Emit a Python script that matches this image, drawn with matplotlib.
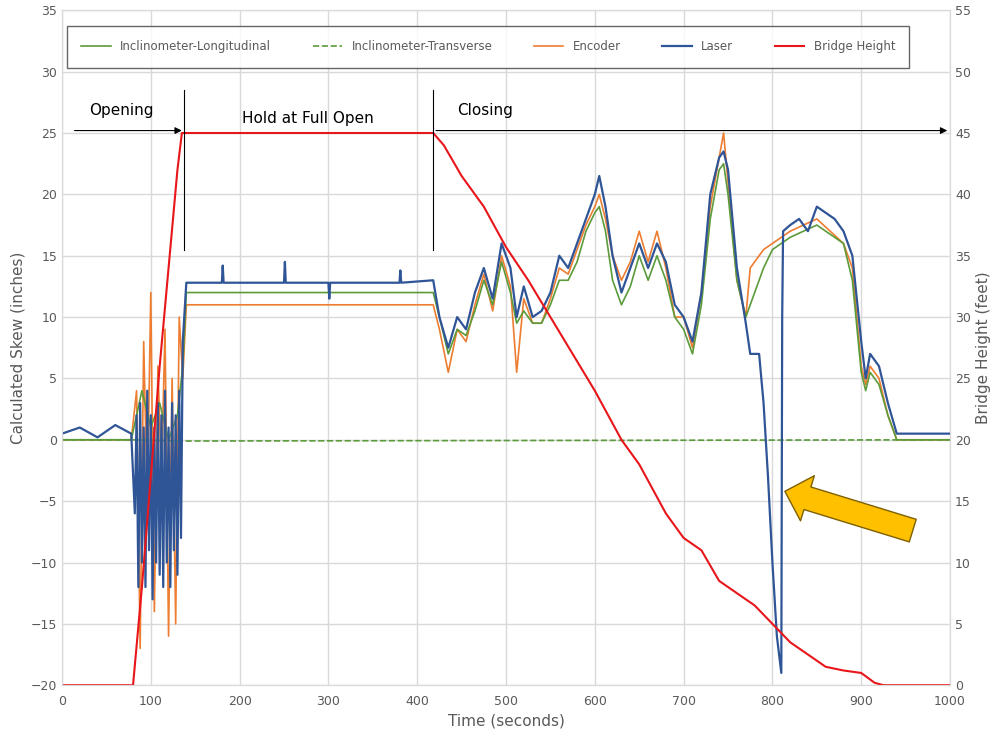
import matplotlib.pyplot as plt

# bridge height (feet, right axis)
bh_t = [0, 80, 90, 100, 110, 120, 130, 135, 418, 430, 450, 475, 500, 525, 550, 575, 600, 630, 650, 680,
        700, 720, 740, 760, 780, 800, 820, 840, 860, 880, 900, 915, 925, 1000]
bh_v = [0, 0, 8, 17, 26, 34, 42, 45, 45, 44, 41.5, 39, 35.7, 33, 30, 27, 24, 20, 18, 14,
        12, 11, 8.5, 7.5, 6.5, 5, 3.5, 2.5, 1.5, 1.2, 1, 0.2, 0, 0]

# laser
la_t = [0, 20, 40, 60, 78, 82, 84, 86, 88, 90, 92, 94, 96, 98, 100, 102, 104, 106, 108, 110, 112, 114, 116,
        118, 120, 122, 124, 126, 128, 130, 132, 134, 136, 140, 180, 181, 182, 250, 251, 252, 300, 301, 302,
        380, 381, 382, 418,
        425, 435, 445, 455, 465, 475, 485, 495, 505, 512, 520, 530, 540, 550, 560, 570, 580, 590, 600, 605,
        612, 620, 630, 640, 650, 660, 670, 680, 690, 700, 710, 720, 730, 740, 745, 750, 760, 770, 775, 785,
        790, 795, 800, 805, 810, 811, 812, 820, 830, 840, 850, 860, 870, 880, 890, 900, 905, 910, 920, 930,
        940, 1000]
la_v = [0.5, 1.0, 0.2, 1.2, 0.5, -6, 2, -12, 3, -10, 1, -12, 4, -9, 2, -13, 1, -10, 3, -11, 2, -12, 4,
        -10, 1, -12, 3, -9, 2, -11, 4, -8, 8, 12.8, 12.8, 14.2, 12.8, 12.8, 14.5, 12.8, 12.8, 11.5, 12.8,
        12.8, 13.8, 12.8, 13,
        10, 7.5, 10, 9, 12, 14, 11.5, 16, 14, 10, 12.5, 10, 10.5, 12, 15, 14, 16, 18, 20, 21.5,
        19, 15, 12, 14, 16, 14, 16, 14.5, 11, 10, 8, 12, 20, 23, 23.5, 22, 14, 9.5, 7, 7,
        3, -3, -10, -16, -19, 10, 17, 17.5, 18, 17, 19, 18.5, 18, 17, 15, 8, 5, 7, 6, 3,
        0.5, 0.5]

# encoder
en_t = [0, 78, 84, 88, 92, 96, 100, 104, 108, 112, 116, 120, 124, 128, 132, 136, 140, 418,
        425, 435, 445, 455, 465, 475, 485, 495, 505, 512, 520, 530, 540, 550, 560, 570, 580, 590, 600, 605,
        612, 620, 630, 640, 650, 660, 670, 680, 690, 700, 710, 720, 730, 740, 745, 750, 760, 770, 775, 790,
        800, 810, 820, 850, 880, 890, 900, 905, 910, 920, 930, 940, 1000]
en_v = [0, 0, 4, -17, 8, -5, 12, -14, 6, -3, 9, -16, 5, -15, 10, 5, 11, 11,
        9, 5.5, 9, 8, 11, 13.5, 10.5, 15, 12.5, 5.5, 11.5, 9.5, 9.5, 11.5, 14, 13.5, 15.5, 17.5, 19, 20,
        18, 15, 13, 14.5, 17, 14.5, 17, 14, 10, 10, 7.5, 12, 19, 23, 25, 21, 13, 10, 14, 15.5,
        16, 16.5, 17, 18, 16, 14, 6, 4.5, 6, 5, 2, 0, 0]

# inclinometer longitudinal
lo_t = [0, 78, 90, 100, 110, 120, 130, 136, 140, 418, 425, 435, 445, 455, 465, 475, 485, 495, 505, 512,
        520, 530, 540, 550, 560, 570, 580, 590, 600, 605, 612, 620, 630, 640, 650, 660, 670, 680, 690, 700,
        710, 720, 730, 740, 745, 750, 760, 770, 775, 790, 800, 810, 820, 850, 880, 890, 900, 905, 910, 920,
        930, 940, 1000]
lo_v = [0, 0, 4, 1, 3, 0, 2, 6, 12, 12, 10, 7, 9, 8.5, 10.5, 13, 11, 14.5, 12, 9.5,
        10.5, 9.5, 9.5, 11, 13, 13, 14.5, 17, 18.5, 19, 17, 13, 11, 12.5, 15, 13, 15, 13, 10, 9,
        7, 11, 18, 22, 22.5, 20, 13, 10, 11, 14, 15.5, 16, 16.5, 17.5, 16, 13, 5.5, 4, 5.5, 4.5,
        2, 0, 0]

# inclinometer transverse
tr_t = [0, 78, 140, 1000]
tr_v = [0, 0, -0.1, 0]

fig, ax = plt.subplots(figsize=(10.08, 7.36), dpi=100)
fig.subplots_adjust(left=0.0615, right=0.9425, top=0.986, bottom=0.069)
ax2 = ax.twinx()

gray = '#595959'
ax.plot(lo_t, lo_v, color='#5B9B3A', lw=1.2, label='Inclinometer-Longitudinal', zorder=3)
ax.plot(tr_t, tr_v, color='#5B9B3A', lw=1.2, ls='--', label='Inclinometer-Transverse', zorder=3)
ax.plot(en_t, en_v, color='#ED7D31', lw=1.2, label='Encoder', zorder=2)
ax.plot(la_t, la_v, color='#2F5597', lw=1.6, label='Laser', zorder=4)
ax2.plot(bh_t, bh_v, color='#E8161B', lw=1.5, label='Bridge Height')

ax.set_xlim(0, 1000)
ax.set_ylim(-20, 35)
ax2.set_ylim(0, 55)
ax.set_xticks(range(0, 1001, 100))
ax.set_yticks(range(-20, 36, 5))
ax2.set_yticks(range(0, 56, 5))
ax.grid(True, color='#D9D9D9', lw=1)
ax.set_axisbelow(True)
for a in (ax, ax2):
    a.tick_params(colors=gray, labelsize=9, length=0)
    for s in a.spines.values():
        s.set_color('#D9D9D9')
ax.tick_params(axis='x', pad=7)
ax.set_xlabel('Time (seconds)', fontsize=11, color=gray)
ax.set_ylabel('Calculated Skew (inches)', fontsize=11, color=gray)
ax2.set_ylabel('Bridge Height (feet)', fontsize=11, color=gray)

# annotations
ax2.annotate('', xy=(138, 45.2), xytext=(11, 45.2),
             arrowprops=dict(arrowstyle='-|>', color='black', lw=0.8))
ax2.annotate('', xy=(1000, 45.2), xytext=(418, 45.2),
             arrowprops=dict(arrowstyle='-|>', color='black', lw=0.8), annotation_clip=False)
ax2.plot([137, 137], [35.5, 48.5], color='black', lw=0.8)
ax2.plot([418, 418], [35.5, 48.5], color='black', lw=0.8)
ax2.text(31, 46.5, 'Opening', fontsize=11)
ax2.text(277, 45.8, 'Hold at Full Open', fontsize=11, ha='center')
ax2.text(445, 46.5, 'Closing', fontsize=11)
ax2.annotate('', xy=(814, 15.8), xytext=(958, 12.6),
             arrowprops=dict(arrowstyle='simple,head_length=1.0,head_width=2.0,tail_width=1.0',
                             fc='#FFC000', ec='#7F6000', lw=1, mutation_scale=17,
                             shrinkA=0, shrinkB=0))

h1, l1 = ax.get_legend_handles_labels()
h2, l2 = ax2.get_legend_handles_labels()
leg = ax2.legend(h1 + h2, l1 + l2, loc='upper center', bbox_to_anchor=(0.48, 0.985), ncol=5,
                 fontsize=8.5, frameon=True, fancybox=False, borderpad=1.2, columnspacing=3.5,
                 handlelength=2.5)
leg.get_frame().set_edgecolor('#404040')
for t in leg.get_texts():
    t.set_color(gray)

plt.savefig('out.png')
